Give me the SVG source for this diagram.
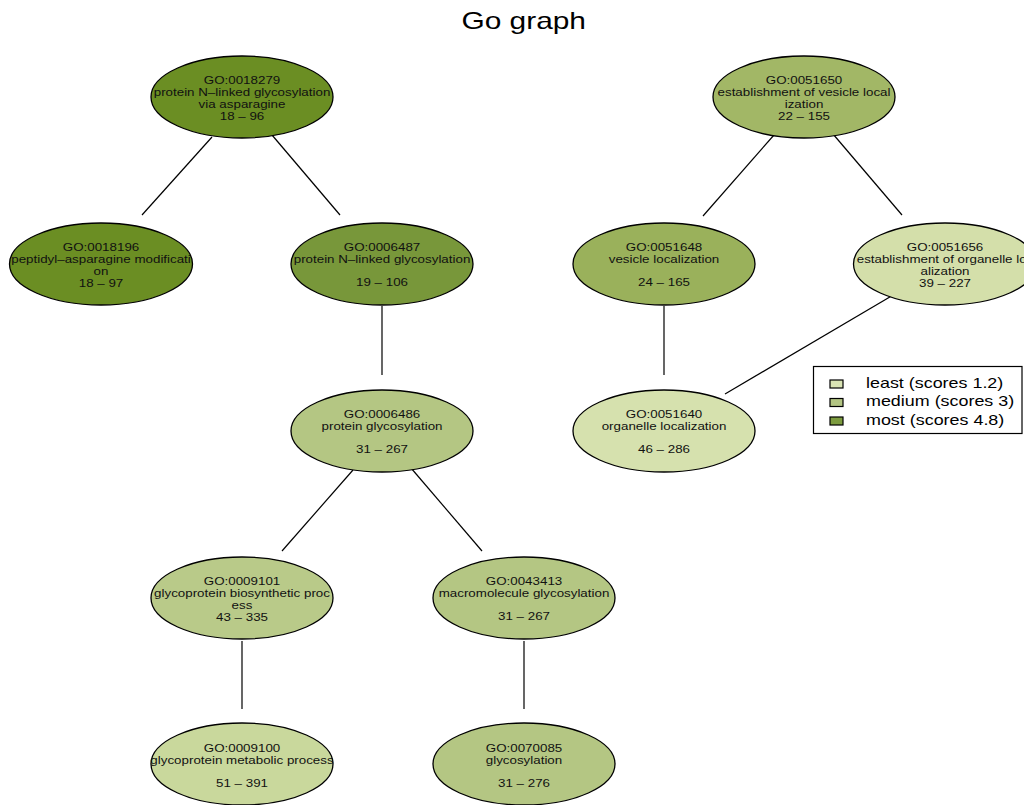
<svg xmlns="http://www.w3.org/2000/svg" width="1024" height="805" viewBox="0 0 1024 805">
<style>
.n{stroke:#000;stroke-width:1.3}
.t{font-family:"Liberation Sans",Arial,sans-serif;font-size:10.2px;fill:#111;text-anchor:middle}
.e{stroke:#000;stroke-width:1.2;fill:none}
.lg{font-family:"Liberation Sans",Arial,sans-serif;font-size:14px;fill:#000}
.ttl{font-family:"Liberation Sans",Arial,sans-serif;font-size:23px;fill:#000;text-anchor:middle}
</style>
<defs>
<clipPath id="c1" clipPathUnits="userSpaceOnUse"><rect x="150" y="50" width="184" height="95"/></clipPath>
<clipPath id="c2" clipPathUnits="userSpaceOnUse"><rect x="9" y="217" width="185" height="95"/></clipPath>
<clipPath id="c3" clipPathUnits="userSpaceOnUse"><rect x="290" y="217" width="184" height="95"/></clipPath>
<clipPath id="c4" clipPathUnits="userSpaceOnUse"><rect x="290" y="384" width="184" height="95"/></clipPath>
<clipPath id="c5" clipPathUnits="userSpaceOnUse"><rect x="150" y="551" width="184" height="95"/></clipPath>
<clipPath id="c6" clipPathUnits="userSpaceOnUse"><rect x="432" y="551" width="184" height="95"/></clipPath>
<clipPath id="c7" clipPathUnits="userSpaceOnUse"><rect x="150" y="717" width="184" height="95"/></clipPath>
<clipPath id="c8" clipPathUnits="userSpaceOnUse"><rect x="432" y="717" width="184" height="95"/></clipPath>
<clipPath id="c9" clipPathUnits="userSpaceOnUse"><rect x="712" y="50" width="184" height="95"/></clipPath>
<clipPath id="c10" clipPathUnits="userSpaceOnUse"><rect x="572" y="217" width="184" height="95"/></clipPath>
<clipPath id="c11" clipPathUnits="userSpaceOnUse"><rect x="852" y="217" width="185" height="95"/></clipPath>
<clipPath id="c12" clipPathUnits="userSpaceOnUse"><rect x="572" y="384" width="184" height="95"/></clipPath>
</defs>
<rect width="1024" height="805" fill="#fff"/>
<text class="ttl" transform="translate(523.7,29) scale(1.3,1)">Go graph</text>

<g id="connectors">
<line class="e" x1="212" y1="137" x2="142" y2="215"/>
<line class="e" x1="272" y1="135" x2="340" y2="215"/>
<line class="e" x1="382" y1="306" x2="382" y2="375"/>
<line class="e" x1="353" y1="470" x2="282" y2="551"/>
<line class="e" x1="411" y1="468" x2="482" y2="551"/>
<line class="e" x1="242" y1="641" x2="242" y2="709"/>
<line class="e" x1="524" y1="641" x2="524" y2="709"/>
<line class="e" x1="774" y1="135" x2="703" y2="216"/>
<line class="e" x1="833" y1="134" x2="902" y2="215"/>
<line class="e" x1="664" y1="306" x2="664" y2="375"/>
<line class="e" x1="900" y1="291" x2="725" y2="394"/>
</g>

<g id="GO0018279">
<ellipse class="n" cx="242" cy="97" rx="91" ry="41" fill="#6b8e23"/>
<g clip-path="url(#c1)">
<text class="t" transform="translate(242,84) scale(1.31,1)">GO:0018279</text>
<text class="t" transform="translate(242,96) scale(1.31,1)">protein N–linked glycosylation</text>
<text class="t" transform="translate(242,108) scale(1.31,1)">via asparagine</text>
<text class="t" transform="translate(242,120) scale(1.31,1)">18 – 96</text>
</g>
</g>

<g id="GO0018196">
<ellipse class="n" cx="101" cy="264" rx="91.5" ry="41" fill="#6b8e23"/>
<g clip-path="url(#c2)">
<text class="t" transform="translate(101,251) scale(1.31,1)">GO:0018196</text>
<text class="t" transform="translate(101,263) scale(1.31,1)">peptidyl–asparagine modificati</text>
<text class="t" transform="translate(101,275) scale(1.31,1)">on</text>
<text class="t" transform="translate(101,287) scale(1.31,1)">18 – 97</text>
</g>
</g>

<g id="GO0006487">
<ellipse class="n" cx="382" cy="264" rx="91" ry="41" fill="#78973a"/>
<g clip-path="url(#c3)">
<text class="t" transform="translate(382,251) scale(1.31,1)">GO:0006487</text>
<text class="t" transform="translate(382,263) scale(1.31,1)">protein N–linked glycosylation</text>
<text class="t" transform="translate(382,286) scale(1.31,1)">19 – 106</text>
</g>
</g>

<g id="GO0006486">
<ellipse class="n" cx="382" cy="431" rx="91" ry="41" fill="#b4c683"/>
<g clip-path="url(#c4)">
<text class="t" transform="translate(382,418) scale(1.31,1)">GO:0006486</text>
<text class="t" transform="translate(382,430) scale(1.31,1)">protein glycosylation</text>
<text class="t" transform="translate(382,453) scale(1.31,1)">31 – 267</text>
</g>
</g>

<g id="GO0009101">
<ellipse class="n" cx="242" cy="598" rx="91" ry="41" fill="#b9ca89"/>
<g clip-path="url(#c5)">
<text class="t" transform="translate(242,585) scale(1.31,1)">GO:0009101</text>
<text class="t" transform="translate(242,597) scale(1.31,1)">glycoprotein biosynthetic proc</text>
<text class="t" transform="translate(242,609) scale(1.31,1)">ess</text>
<text class="t" transform="translate(242,621) scale(1.31,1)">43 – 335</text>
</g>
</g>

<g id="GO0043413">
<ellipse class="n" cx="524" cy="598" rx="91" ry="41" fill="#b4c683"/>
<g clip-path="url(#c6)">
<text class="t" transform="translate(524,585) scale(1.31,1)">GO:0043413</text>
<text class="t" transform="translate(524,597) scale(1.31,1)">macromolecule glycosylation</text>
<text class="t" transform="translate(524,620) scale(1.31,1)">31 – 267</text>
</g>
</g>

<g id="GO0009100">
<ellipse class="n" cx="242" cy="764" rx="91" ry="41" fill="#c9d89c"/>
<g clip-path="url(#c7)">
<text class="t" transform="translate(242,752) scale(1.31,1)">GO:0009100</text>
<text class="t" transform="translate(242,764) scale(1.31,1)">glycoprotein metabolic process</text>
<text class="t" transform="translate(242,787) scale(1.31,1)">51 – 391</text>
</g>
</g>

<g id="GO0070085">
<ellipse class="n" cx="524" cy="764" rx="91" ry="41" fill="#b4c683"/>
<g clip-path="url(#c8)">
<text class="t" transform="translate(524,752) scale(1.31,1)">GO:0070085</text>
<text class="t" transform="translate(524,764) scale(1.31,1)">glycosylation</text>
<text class="t" transform="translate(524,787) scale(1.31,1)">31 – 276</text>
</g>
</g>

<g id="GO0051650">
<ellipse class="n" cx="804" cy="97" rx="91" ry="41" fill="#a2b766"/>
<g clip-path="url(#c9)">
<text class="t" transform="translate(804,84) scale(1.31,1)">GO:0051650</text>
<text class="t" transform="translate(804,96) scale(1.31,1)">establishment of vesicle local</text>
<text class="t" transform="translate(804,108) scale(1.31,1)">ization</text>
<text class="t" transform="translate(804,120) scale(1.31,1)">22 – 155</text>
</g>
</g>

<g id="GO0051648">
<ellipse class="n" cx="664" cy="264" rx="91" ry="41" fill="#9ab15b"/>
<g clip-path="url(#c10)">
<text class="t" transform="translate(664,251) scale(1.31,1)">GO:0051648</text>
<text class="t" transform="translate(664,263) scale(1.31,1)">vesicle localization</text>
<text class="t" transform="translate(664,286) scale(1.31,1)">24 – 165</text>
</g>
</g>

<g id="GO0051656">
<ellipse class="n" cx="945" cy="264" rx="91.5" ry="41" fill="#d4dfaa"/>
<g clip-path="url(#c11)">
<text class="t" transform="translate(945,251) scale(1.31,1)">GO:0051656</text>
<text class="t" transform="translate(945,263) scale(1.31,1)">establishment of organelle loc</text>
<text class="t" transform="translate(945,275) scale(1.31,1)">alization</text>
<text class="t" transform="translate(945,287) scale(1.31,1)">39 – 227</text>
</g>
</g>

<g id="GO0051640">
<ellipse class="n" cx="664" cy="431" rx="91" ry="41" fill="#d6e1ae"/>
<g clip-path="url(#c12)">
<text class="t" transform="translate(664,418) scale(1.31,1)">GO:0051640</text>
<text class="t" transform="translate(664,430) scale(1.31,1)">organelle localization</text>
<text class="t" transform="translate(664,453) scale(1.31,1)">46 – 286</text>
</g>
</g>

<g id="legend">
<rect x="813.5" y="366.5" width="208.5" height="67" fill="#fff" stroke="#000" stroke-width="1.2"/>
<rect x="830" y="380" width="13" height="8" fill="#dae4b4" stroke="#000" stroke-width="1.2"/>
<rect x="830" y="398.5" width="13" height="8" fill="#b3c583" stroke="#000" stroke-width="1.2"/>
<rect x="830" y="417" width="13" height="8" fill="#7d9c3f" stroke="#000" stroke-width="1.2"/>
<text class="lg" transform="translate(866,388) scale(1.28,1)">least (scores 1.2)</text>
<text class="lg" transform="translate(866,406.3) scale(1.28,1)">medium (scores 3)</text>
<text class="lg" transform="translate(866,424.7) scale(1.28,1)">most (scores 4.8)</text>
</g>
</svg>
